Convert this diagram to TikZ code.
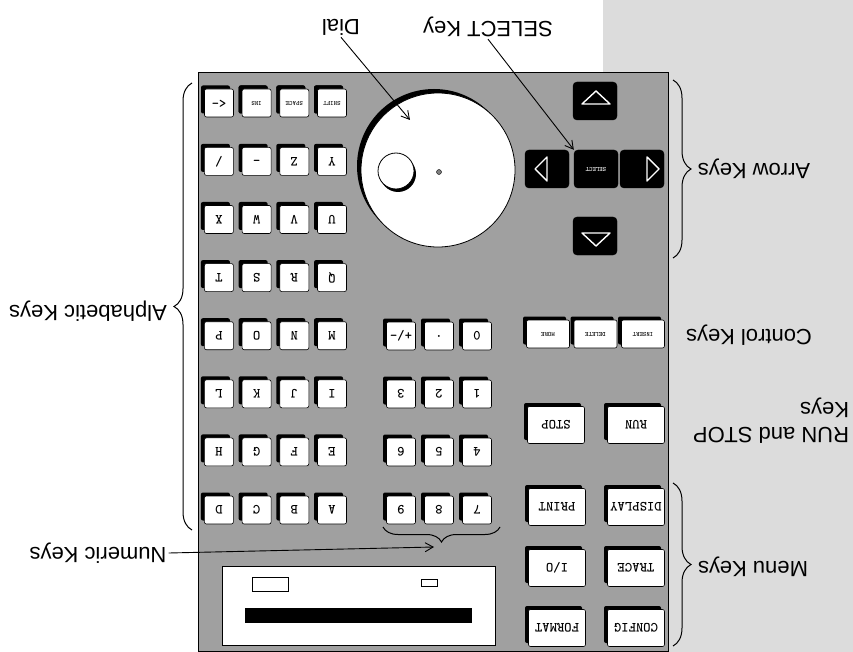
\documentclass[tikz,border=0pt]{standalone}
\usepackage{fontspec}
\setmainfont{Liberation Sans}
\usetikzlibrary{arrows.meta, decorations.pathreplacing, shadows}
\definecolor{panelgray}{HTML}{A0A0A0}
\definecolor{pagegray}{HTML}{DCDCDC}
\newcommand{\upsd}[1]{\rotatebox[origin=c]{180}{#1}}
\tikzset{
  panel/.style={draw=black, line width=0.8pt, fill=panelgray},
  keycap/.style={draw=black, line width=0.6pt, fill=white, rounded corners=2pt, inner sep=0pt,
    font=\ttfamily\bfseries\fontsize{14}{14}\selectfont,
    drop shadow={shadow xshift=-3.5pt, shadow yshift=3.5pt, fill=black, opacity=1}},
  akey/.style={keycap, minimum width=29pt, minimum height=28pt},
  smallkey/.style={keycap, font=\ttfamily\bfseries\fontsize{6.5}{7}\selectfont},
  ckey/.style={smallkey, minimum width=43pt, minimum height=28pt},
  bigkey/.style={keycap, minimum width=57pt, minimum height=37pt},
  arrkey/.style={draw=black, fill=black, rounded corners=4pt, minimum width=44pt, minimum height=38pt, inner sep=0pt},
  tri/.style={draw=white, line width=1.4pt, line join=round},
  lbl/.style={font=\fontsize{22}{25}\selectfont, rotate=180, inner sep=2pt},
  leader/.style={-{Straight Barb[length=8pt, width=9pt]}, line width=0.9pt},
  brc/.style={decorate, decoration={brace, amplitude=#1}, line width=1pt},
  brc/.default=18pt,
}
\begin{document}
\begin{tikzpicture}[x=1pt, y=-1pt]
  \useasboundingbox (0,0) rectangle (853,652);
  \fill[pagegray] (603,0) rectangle (853,652);
  \draw[panel] (198,72) rectangle (668,651);

  % display window
  \draw[fill=white, line width=0.8pt] (222,566) rectangle (495,645);
  \fill (245,608) rectangle (472,623);
  \draw[line width=0.8pt] (252,577) rectangle (288,591);
  \draw[line width=0.8pt] (421,579) rectangle (437,586);

  % dial
  \node[circle, draw, line width=0.8pt, fill=white, minimum size=154pt, inner sep=0pt,
    drop shadow={shadow xshift=-4pt, shadow yshift=4pt, fill=black, opacity=1}] (dial) at (438,170) {};
  \node[circle, draw, line width=0.8pt, fill=white, minimum size=36pt, inner sep=0pt,
    drop shadow={shadow xshift=2pt, shadow yshift=-3pt, fill=black, opacity=1}] (knob) at (396,171) {};
  \node[circle, draw, fill=gray, minimum size=5pt, inner sep=0pt] (hub) at (439,172) {};

  % arrow keys
  \node[arrkey] (kDown) at (595,101) {};
  \node[arrkey] (kRight) at (547,169) {};
  \node[arrkey, font=\ttfamily\bfseries\fontsize{6.5}{7}\selectfont, text=white] (kSel) at (596,169) {\upsd{SELECT}};
  \node[arrkey] (kLeft) at (642,169) {};
  \node[arrkey] (kUp) at (595,236) {};
  \draw[tri] ([shift={(-13,3)}]kDown.center) -- ([shift={(15,3)}]kDown.center) -- ([shift={(1,-10)}]kDown.center) -- cycle;
  \draw[tri] ([shift={(-13,-3)}]kUp.center) -- ([shift={(15,-3)}]kUp.center) -- ([shift={(1,10)}]kUp.center) -- cycle;
  \draw[tri] ([shift={(0,-12)}]kRight.center) -- ([shift={(0,12)}]kRight.center) -- ([shift={(-12,0)}]kRight.center) -- cycle;
  \draw[tri] ([shift={(5,-12)}]kLeft.center) -- ([shift={(5,12)}]kLeft.center) -- ([shift={(17,0)}]kLeft.center) -- cycle;

  % alphabetic keys
  \foreach \lab [count=\i from 0] in {A,B,C,D,E,F,G,H,I,J,K,L,M,N,O,P,Q,R,S,T,U,V,W,X,Y,Z,\_,/}{
    \pgfmathtruncatemacro{\r}{\i/4}
    \pgfmathtruncatemacro{\c}{mod(\i,4)}
    \node[akey] (a\i) at ({332-37.7*\c},{510-58.1*\r}) {\upsd{\lab}};
  }
  \foreach \lab [count=\i from 0] in {SHIFT,SPACE,INS}
    \node[akey, smallkey] (s\i) at ({332-37.7*\i},103) {\upsd{\lab}};
  \node[akey] (bksp) at (219,103) {\upsd{<-}};

  % numeric keys
  \foreach \lab [count=\i from 0] in {7,8,9,4,5,6,1,2,3,0,.,+/-}{
    \pgfmathtruncatemacro{\r}{\i/3}
    \pgfmathtruncatemacro{\c}{mod(\i,3)}
    \node[akey] (n\i) at ({477-38*\c},{510-58*\r}) {\upsd{\lab}};
  }

  % control, run/stop and menu keys
  \foreach \lab [count=\i from 0] in {INSERT,DELETE,MORE}
    \node[ckey] (c\i) at ({643-47.5*\i},334) {\upsd{\lab}};
  \node[bigkey] (kRun) at (636,425) {\upsd{RUN}};
  \node[bigkey] (kStop) at (556,425) {\upsd{STOP}};
  \node[bigkey] (kDisplay) at (636,507) {\upsd{DISPLAY}};
  \node[bigkey] (kPrint) at (557,507) {\upsd{PRINT}};
  \node[bigkey] (kTrace) at (636,568) {\upsd{TRACE}};
  \node[bigkey] (kIO) at (557,568) {\upsd{I/O}};
  \node[bigkey] (kConfig) at (636,628) {\upsd{CONFIG}};
  \node[bigkey] (kFormat) at (557,628) {\upsd{FORMAT}};

  % labels
  \node[lbl] (dialLbl) at (341,27) {Dial};
  \node[lbl] (selLbl) at (488,27) {SELECT Key};
  \node[lbl] (arrLbl) at (754,169) {Arrow Keys};
  \node[lbl] (ctlLbl) at (749,335) {Control Keys};
  \node[lbl, align=left] (runLbl) at (771,421) {RUN and STOP\\Keys};
  \node[lbl] (menuLbl) at (753,567) {Menu Keys};
  \node[lbl] (alphaLbl) at (88,311) {Alphabetic Keys};
  \node[lbl] (numLbl) at (98,553) {Numeric Keys};

  \draw[brc] (192,530) -- (192,83);
  \draw[brc=15pt] (500,527) -- (383,527);
  \draw[brc] (673,80) -- (673,258);
  \draw[brc] (673,483) -- (673,646);

  \coordinate (dialPt) at (410,120);
  \coordinate (numPt) at (434,547);
  \draw[leader] (dialLbl.north) -- (dialPt);
  \draw[leader] (selLbl.north) -- (kSel.north west);
  \draw[leader] (numLbl.west) -- (numPt);
\end{tikzpicture}
\end{document}
